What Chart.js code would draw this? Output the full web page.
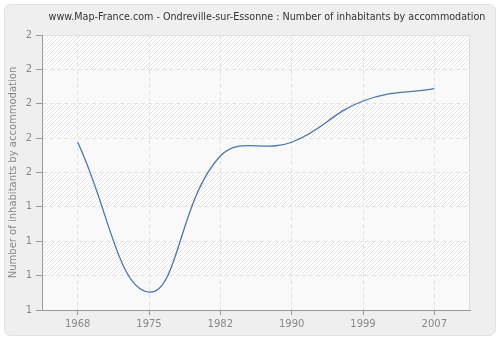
<!DOCTYPE html>
<html>
<head>
<meta charset="utf-8">
<script src="https://cdn.jsdelivr.net/npm/chart.js@4"></script>
<style>
  html, body { margin: 0; padding: 0; background: #fff; }
  #wrap { width: 500px; height: 340px; }
</style>
</head>
<body>
<div id="wrap"><canvas id="chart" width="500" height="340"></canvas></div>
<script>
const years = ['1968', '1975', '1982', '1990', '1999', '2007'];
const inhabitants = [1.61, 1.065, 1.56, 1.61, 1.76, 1.805];
const yMin = 1;
const yMax = 2;
const yStep = 0.125;
const titleText = 'www.Map-France.com - Ondreville-sur-Essonne : Number of inhabitants by accommodation';
const yTitle = 'Number of inhabitants by accommodation';

const FONT = '"DejaVu Sans", Verdana, sans-serif';

// diagonal hatch used behind the plot
function makeHatch() {
  const c = document.createElement('canvas');
  c.width = 4; c.height = 4;
  const g = c.getContext('2d');
  g.strokeStyle = '#e4e4e4';
  g.lineWidth = 1;
  g.beginPath();
  g.moveTo(0, 4); g.lineTo(4, 0);
  g.moveTo(-1, 1); g.lineTo(1, -1);
  g.moveTo(3, 5); g.lineTo(5, 3);
  g.stroke();
  return c;
}

const frame = {
  id: 'frame',
  beforeDraw(chart) {
    const ctx = chart.ctx;
    const a = chart.chartArea;
    ctx.save();
    ctx.fillStyle = '#ffffff';
    ctx.fillRect(0, 0, chart.width, chart.height);
    ctx.beginPath();
    ctx.roundRect(4.5, 4.5, 491, 331, 6);
    ctx.fillStyle = '#efefef';
    ctx.fill();
    ctx.strokeStyle = '#e2e2e2';
    ctx.lineWidth = 1;
    ctx.stroke();

    ctx.fillStyle = '#ffffff';
    ctx.fillRect(a.left, a.top, a.right - a.left, a.bottom - a.top);
    ctx.fillStyle = ctx.createPattern(makeHatch(), 'repeat');
    ctx.fillRect(a.left, a.top, a.right - a.left, a.bottom - a.top);

    // alternate lighter bands
    const y = chart.scales.y;
    ctx.fillStyle = 'rgba(249,249,249,0.85)';
    for (let v = yMax - yStep, k = 1; v > yMin - 1e-9; v -= yStep, k++) {
      if (k % 2 === 1) {
        const top = y.getPixelForValue(v);
        const bot = y.getPixelForValue(v - yStep);
        ctx.fillRect(a.left, top, a.right - a.left, bot - top);
      }
    }
    ctx.strokeStyle = '#dddddd';
    ctx.beginPath();
    ctx.moveTo(a.left, a.top + 0.5);
    ctx.lineTo(a.right - 0.5, a.top + 0.5);
    ctx.lineTo(a.right - 0.5, a.bottom);
    ctx.stroke();
    ctx.restore();
  },
  afterDraw(chart) {
    const ctx = chart.ctx;
    ctx.save();
    ctx.font = '9.6px ' + FONT;
    ctx.fillStyle = '#333333';
    ctx.textAlign = 'center';
    ctx.textBaseline = 'middle';
    ctx.fillText(titleText, 267, 17);
    ctx.restore();
  }
};

new Chart(document.getElementById('chart'), {
  type: 'line',
  data: {
    labels: years,
    datasets: [{
      data: inhabitants,
      borderColor: '#4a76ad',
      borderWidth: 1.3,
      pointRadius: 0,
      pointHoverRadius: 0,
      fill: false,
      tension: 0.42
    }]
  },
  options: {
    responsive: false,
    animation: false,
    events: [],
    layout: { padding: { left: 0, right: 30, top: 35, bottom: 0 } },
    plugins: {
      legend: { display: false },
      title: { display: false },
      tooltip: { enabled: false }
    },
    scales: {
      x: {
        type: 'category',
        offset: true,
        border: { color: '#999999', width: 1, dash: [4, 3] },
        grid: {
          offset: false,
          color: '#e2e2e2',
          tickColor: '#999999',
          tickBorderDash: [],
          tickLength: 5
        },
        ticks: {
          color: '#888888',
          font: { family: FONT, size: 10 },
          padding: 3,
          maxRotation: 0
        },
        afterFit(s) { s.height = 30; }
      },
      y: {
        min: yMin,
        max: yMax,
        border: { color: '#999999', width: 1, dash: [4, 3] },
        grid: {
          color: '#e2e2e2',
          tickColor: '#999999',
          tickBorderDash: [],
          tickLength: 6
        },
        ticks: {
          stepSize: yStep,
          color: '#888888',
          font: { family: FONT, size: 10 },
          padding: 4,
          callback: v => Math.round(v)
        },
        title: {
          display: true,
          text: yTitle,
          color: '#888888',
          font: { family: FONT, size: 10 },
          padding: { top: 7, bottom: 0 }
        },
        afterFit(s) { s.width = 42; }
      }
    }
  },
  plugins: [frame]
});
</script>
</body>
</html>
